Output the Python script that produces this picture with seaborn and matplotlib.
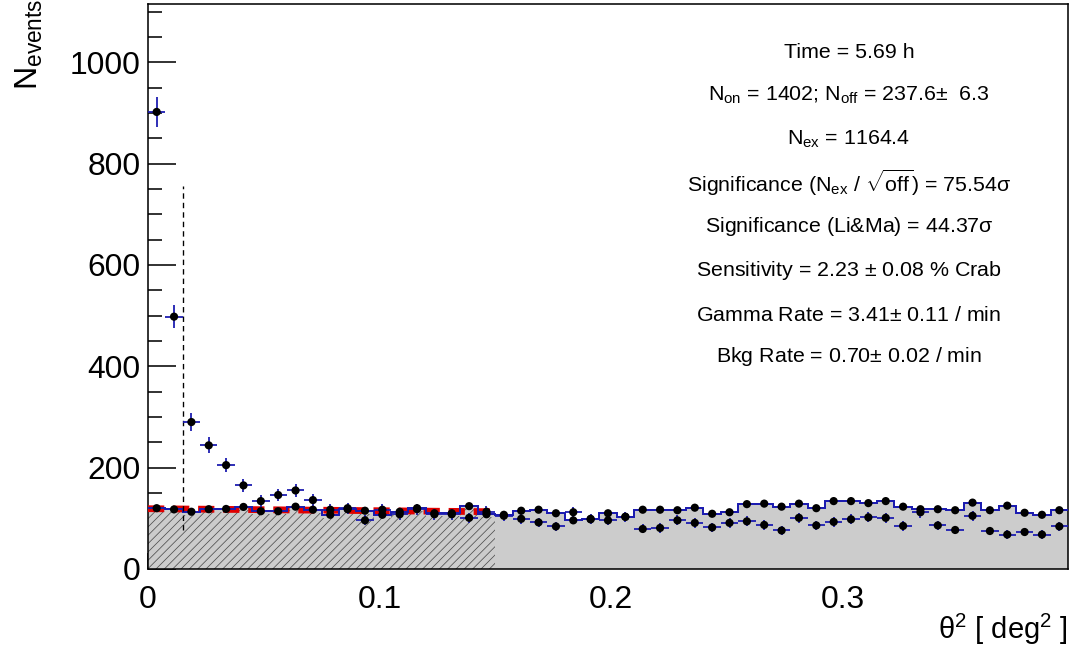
import numpy as np
import matplotlib
matplotlib.use("Agg")
import matplotlib.pyplot as plt
import seaborn as sns
from matplotlib.ticker import MultipleLocator, FuncFormatter

# ---------------- data ----------------
bin_width = 0.0075
n_bins = 53
on_counts = [902, 498, 290, 244, 205, 165, 134, 146, 155, 136, 117,
             120, 96, 117, 108, 118, 108, 108, 101, 113, 105,
             99, 92, 84, 112, 99, 96, 103, 79, 81, 96,
             91, 82, 91, 94, 87, 76, 101, 86, 93, 98,
             102, 101, 85, 112, 86, 77, 105, 75, 68, 73, 68, 84]
off_counts = [120, 117.6, 113, 118, 118.5, 122.5, 114, 114, 123, 117, 107,
              118, 115, 107, 113, 120, 110, 110, 124, 108, 107,
              115, 117, 110, 96, 98, 110, 103, 117, 117, 116,
              121, 109, 112, 128, 129, 123, 129, 120, 134, 134,
              130, 134, 123, 118, 118, 116, 131, 116, 125, 111, 107, 116]
fit_x = [0.0, 0.15]
fit_y = [119, 113]
theta2_cut = 0.015
cut_line_y = [77, 755]
norm_region_end = 0.15
x_ticks = [0, 0.1, 0.2, 0.3]
y_ticks = [0, 200, 400, 600, 800, 1000]
stat_lines = [
    "Time = 5.69 h",
    r"N$_{\mathrm{on}}$ = 1402; N$_{\mathrm{off}}$ = 237.6$\pm$  6.3",
    r"N$_{\mathrm{ex}}$ = 1164.4",
    r"Significance (N$_{\mathrm{ex}}$ / $\sqrt{\mathrm{off}}$) = 75.54$\mathrm{\sigma}$",
    r"Significance (Li&Ma) = 44.37$\mathrm{\sigma}$",
    r"Sensitivity = 2.23 $\pm$ 0.08 % Crab",
    r"Gamma Rate = 3.41$\pm$ 0.11 / min",
    r"Bkg Rate = 0.70$\pm$ 0.02 / min",
]
stat_y_px = [52, 95, 139, 183, 226, 270, 315, 357]

# ---------------- style ----------------
sns.set_theme(style="ticks")
plt.rcParams['font.family'] = ['Liberation Sans', 'DejaVu Sans']
plt.rcParams['mathtext.fontset'] = 'custom'
plt.rcParams['mathtext.rm'] = 'Liberation Sans'
plt.rcParams['mathtext.it'] = 'Liberation Sans:italic'
plt.rcParams['mathtext.bf'] = 'Liberation Sans:bold'
plt.rcParams['hatch.linewidth'] = 0.7
for k in ['text.color', 'axes.labelcolor', 'xtick.color', 'ytick.color',
          'axes.edgecolor']:
    plt.rcParams[k] = 'black'

W, H, DPI = 1076, 658, 75
fig = plt.figure(figsize=(W / DPI, H / DPI), dpi=DPI)
fig.patch.set_facecolor('white')
L, R, T, B = 148, 1068, 4, 569
ax = fig.add_axes([L / W, (H - B) / H, (R - L) / W, (B - T) / H])
ax.set_facecolor('white')

on = np.array(on_counts, dtype=float)
off = np.array(off_counts, dtype=float)
edges = np.arange(n_bins + 1) * bin_width
centers = edges[:-1] + bin_width / 2
blue = '#1a1ab0'

# OFF histogram: gray fill
ax.stairs(off, edges, fill=True, color='#cccccc', zorder=1, baseline=0)
# hatched normalisation region
mask = edges[:-1] < norm_region_end - 1e-9
h_edges = edges[:mask.sum() + 1]
h_vals = np.append(off[mask], off[mask][-1])
ax.fill_between(h_edges, 0, h_vals - 6, step='post', facecolor='none',
                edgecolor='#4a4a4a', hatch='///', linewidth=0, zorder=2)
# red dashed fit
ax.plot(fit_x, fit_y, color='#e00000', lw=6.5, ls=(0, (2.4, 1.3)),
        solid_capstyle='butt', dash_capstyle='butt', zorder=3)
# OFF step outline
ax.stairs(off, edges, color=blue, lw=1.9, baseline=None, zorder=4)
# cut line
ax.plot([theta2_cut, theta2_cut], cut_line_y, color='black', lw=1.3,
        ls=(0, (4, 3)), zorder=4)
# ON error bars
ax.errorbar(centers, on, xerr=bin_width / 2, yerr=np.sqrt(on), fmt='none',
            ecolor=blue, elinewidth=1.7, capsize=0, zorder=5)
# markers
sns.scatterplot(x=centers, y=off, color='black', s=62, edgecolor='none',
                zorder=6, ax=ax, legend=False)
sns.scatterplot(x=centers, y=on, color='black', s=62, edgecolor='none',
                zorder=7, ax=ax, legend=False)

# ---------------- axes ----------------
ax.set_xlim(0, edges[-1])
ax.set_ylim(0, 1115)
ax.set_xticks(x_ticks)
ax.set_yticks(y_ticks)
ax.xaxis.set_minor_locator(MultipleLocator(0.02))
ax.yaxis.set_minor_locator(MultipleLocator(50))
ax.xaxis.set_major_formatter(FuncFormatter(lambda v, p: f"{v:g}"))
ax.yaxis.set_major_formatter(FuncFormatter(lambda v, p: f"{v:g}"))
ax.tick_params(axis='x', which='major', direction='in', length=15.5, width=1.5,
               labelsize=30.5, pad=15, color='black', labelcolor='black')
ax.tick_params(axis='x', which='minor', direction='in', length=7.7, width=1.5,
               color='black')
ax.tick_params(axis='y', which='major', direction='in', length=27, width=1.5,
               labelsize=30.5, pad=7, color='black', labelcolor='black')
ax.tick_params(axis='y', which='minor', direction='in', length=13.4, width=1.5,
               color='black')
for s in ax.spines.values():
    s.set_linewidth(1.5)
    s.set_color('black')

ax.set_ylabel(r"N$_{\mathrm{events}}$", loc='top', fontsize=31, color='black')
ax.yaxis.set_label_coords(-(L - 45) / (R - L), 1.01)
ax.set_xlabel(r"$\mathrm{\theta}^{2}$ [ deg$^{2}$ ]", loc='right', fontsize=28,
              color='black')
ax.xaxis.set_label_coords(1.0, -(612 - B) / (B - T))

for txt, ypx in zip(stat_lines, stat_y_px):
    fig.text(849 / W, 1 - ypx / H, txt, ha='center', va='center',
             fontsize=20.5, color='black')

fig.savefig("out.png", dpi=DPI)
